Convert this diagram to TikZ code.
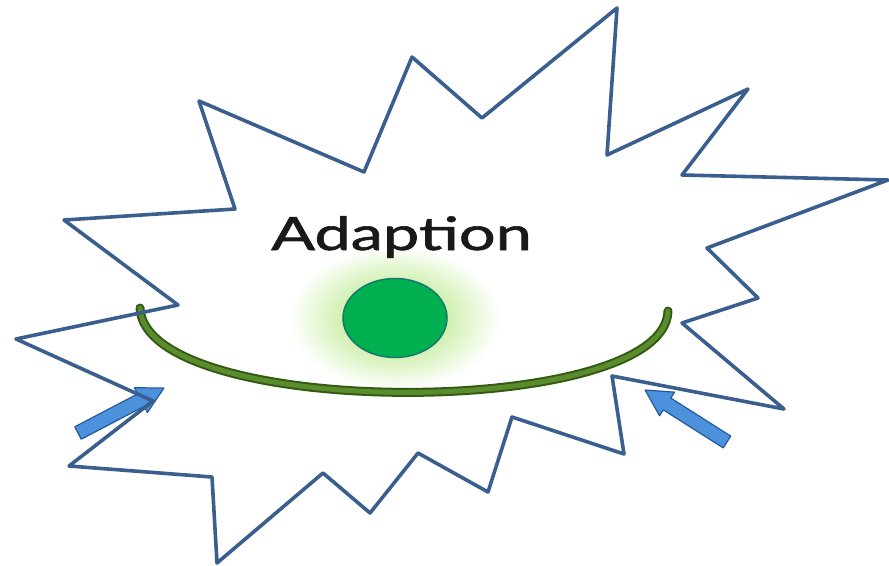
\documentclass[tikz,border=0pt]{standalone}
\usepackage{fontspec}
\setmainfont{Lato}
\newfontfamily\labelfont[FakeBold=1.2]{Lato}
\usetikzlibrary{calc,shapes.geometric}
\definecolor{starblue}{RGB}{58,95,143}
\definecolor{arcdark}{RGB}{50,90,20}
\definecolor{arcmid}{RGB}{90,140,45}
\definecolor{dotgreen}{RGB}{0,176,80}
\definecolor{dotedge}{RGB}{20,120,110}
\definecolor{glowgreen}{RGB}{160,225,95}
\definecolor{arrfill}{RGB}{75,145,220}
\definecolor{arredge}{RGB}{40,90,155}
\tikzset{
  starline/.style={draw=starblue, line width=3.6pt, line join=round},
  blockarrow/.style={fill=arrfill, draw=arredge, line width=1.2pt, line join=round},
  label/.style={inner sep=0pt, font=\labelfont\fontsize{46}{50}\selectfont, text=black!90}
}
\begin{document}
\begin{tikzpicture}[x=1pt,y=-1pt]
\useasboundingbox (0,0) rectangle (889,565);
% glow
\shade[inner color=glowgreen, outer color=white] (395,318) ellipse (105 and 72);
% dot
\node[ellipse, minimum width=104pt, minimum height=79pt, fill=dotgreen, draw=dotedge, line width=1.5pt, inner sep=0pt] (dot) at (395,318) {};
% arc
\coordinate (arcL) at (140,308);
\coordinate (arcR) at (668,311);
\draw[arcdark, line width=9pt, line cap=round] (arcL) .. controls (145,420) and (665,420) .. (arcR);
\draw[arcmid, line width=5pt, line cap=round] (arcL) .. controls (145,420) and (665,420) .. (arcR);
% arrows
\begin{scope}[shift={(78,433)}, rotate=27.6]
\path[blockarrow] (0,-7) -- (71,-7) -- (71,-14) -- (97,0) -- (71,14) -- (71,7) -- (0,7) -- cycle;
\end{scope}
\begin{scope}[shift={(727,442)}, rotate=147.6]
\path[blockarrow] (0,-7) -- (71,-7) -- (71,-14) -- (97,0) -- (71,14) -- (71,7) -- (0,7) -- cycle;
\end{scope}
% star
\draw[starline] (199,101) -- (364,172) -- (412,57) -- (482,118) -- (617,8) -- (607,155) -- (748,89) -- (682,175) -- (888,180) -- (707,248) -- (758,298) -- (682,323) -- (784,409) -- (612,376) -- (624,454) -- (512,417) -- (488,492) -- (418,453) -- (370,513) -- (323,473) -- (217,563) -- (212,477) -- (69,466) -- (153,401) -- (16,339) -- (178,305) -- (64,220) -- (235,209) -- cycle;
% text
\node[label, anchor=base west] (title) at (271,250) {\scalebox{1.41}[1]{Adaption}};
\end{tikzpicture}
\end{document}
